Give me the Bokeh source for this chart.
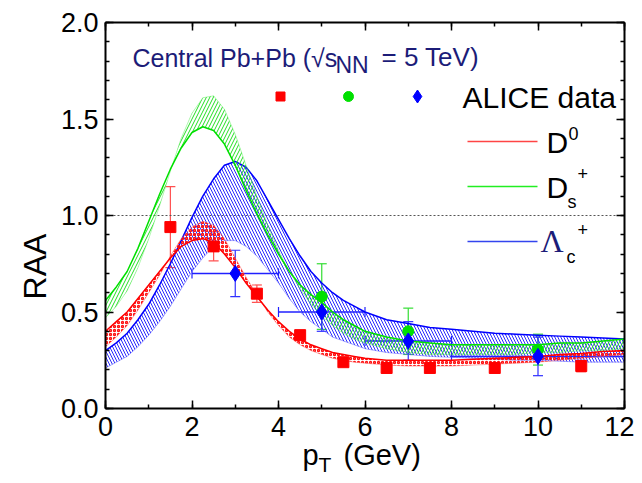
import math
from bokeh.plotting import figure
from bokeh.models import (Range1d, LinearAxis, FixedTicker, Label, Whisker,
                          ColumnDataSource, CustomJSTickFormatter, PrintfTickFormatter, TeeHead)
from bokeh.embed import file_html
from bokeh.resources import INLINE

# ---------------- data ----------------
pt_grid = [0, 0.25, 0.5, 0.75, 1.0, 1.25, 1.5, 1.75, 2.0, 2.25, 2.5, 2.75, 3.0, 3.25, 3.5, 3.75,
           4.0, 4.25, 4.5, 4.75, 5.0, 5.25, 5.5, 5.75, 6.0, 6.5, 7.0, 7.5, 8.0, 8.5, 9.0, 9.5,
           10.0, 10.5, 11.0, 11.5, 12.0]

# D0 model band (solid edge / hatched edge)
d0_solid = [0.40, 0.45, 0.50, 0.57, 0.64, 0.71, 0.78, 0.84, 0.87, 0.88, 0.86, 0.80, 0.73, 0.65, 0.58, 0.51,
            0.45, 0.40, 0.36, 0.33, 0.31, 0.29, 0.28, 0.27, 0.26, 0.25, 0.25, 0.25, 0.25, 0.255, 0.26, 0.265,
            0.27, 0.28, 0.285, 0.295, 0.30]
d0_edge = [0.32, 0.37, 0.43, 0.51, 0.60, 0.69, 0.79, 0.88, 0.94, 0.97, 0.95, 0.88, 0.78, 0.68, 0.59, 0.50,
           0.43, 0.37, 0.33, 0.30, 0.28, 0.26, 0.25, 0.24, 0.235, 0.225, 0.22, 0.22, 0.22, 0.225, 0.23, 0.235,
           0.24, 0.25, 0.26, 0.27, 0.28]

# Ds+ model band
ds_solid = [0.56, 0.63, 0.71, 0.83, 0.97, 1.11, 1.24, 1.35, 1.43, 1.46, 1.44, 1.37, 1.26, 1.13, 1.01, 0.90,
            0.80, 0.71, 0.64, 0.59, 0.55, 0.50, 0.46, 0.43, 0.40, 0.37, 0.35, 0.34, 0.33, 0.33, 0.33, 0.33,
            0.33, 0.34, 0.34, 0.35, 0.36]
ds_edge = [0.47, 0.53, 0.61, 0.73, 0.88, 1.05, 1.23, 1.40, 1.53, 1.61, 1.62, 1.55, 1.42, 1.26, 1.10, 0.95,
           0.82, 0.71, 0.62, 0.54, 0.48, 0.43, 0.39, 0.36, 0.34, 0.31, 0.29, 0.28, 0.28, 0.28, 0.28, 0.28,
           0.29, 0.29, 0.30, 0.30, 0.31]

# Lambda_c+ model band
lc_solid = [0.30, 0.34, 0.39, 0.46, 0.54, 0.64, 0.75, 0.87, 0.99, 1.10, 1.19, 1.26, 1.28, 1.25, 1.18, 1.08,
            0.98, 0.88, 0.79, 0.71, 0.65, 0.60, 0.56, 0.53, 0.50, 0.46, 0.44, 0.42, 0.41, 0.40, 0.39, 0.385,
            0.38, 0.375, 0.37, 0.365, 0.36]
lc_edge = [0.21, 0.24, 0.27, 0.32, 0.38, 0.45, 0.53, 0.62, 0.71, 0.78, 0.84, 0.87, 0.87, 0.84, 0.79, 0.72,
           0.65, 0.57, 0.50, 0.45, 0.41, 0.37, 0.35, 0.33, 0.31, 0.29, 0.28, 0.27, 0.265, 0.26, 0.255, 0.25,
           0.25, 0.245, 0.24, 0.24, 0.24]

# ALICE data
d0_pt = [1.5, 2.5, 3.5, 4.5, 5.5, 6.5, 7.5, 9.0, 11.0]
d0_raa = [0.94, 0.84, 0.595, 0.38, 0.24, 0.21, 0.21, 0.21, 0.22]
d0_err = [0.21, 0.075, 0.045, 0.025, 0.02, 0.02, 0.02, 0.02, 0.03]

ds_pt = [5.0, 7.0, 10.0]
ds_raa = [0.58, 0.40, 0.305]
ds_err = [0.17, 0.12, 0.08]

lc_pt = [3.0, 5.0, 7.0, 10.0]
lc_raa = [0.70, 0.50, 0.35, 0.27]
lc_yerr = [0.12, 0.10, 0.10, 0.10]
lc_xerr = [1.0, 1.0, 1.0, 2.0]

x_ticks = [0, 2, 4, 6, 8, 10, 12]
x_minor = list(range(0, 13))
y_ticks = [0.0, 0.5, 1.0, 1.5, 2.0]
y_minor = [round(0.1 * i, 1) for i in range(21)]
unity = 1.0

RED, GREEN, BLUE, NAVY = "#ff0000", "#00e000", "#0000ff", "#1c1c78"
FONT = "Liberation Sans"

# ---------------- geometry (pixel frame of the axes box) ----------------
W, H = 634, 475
FL, FR, FT, FB = 105, 624, 22, 408
sx = (FR - FL) / 12.0
sy = (FB - FT) / 2.0

p = figure(width=W, height=H, output_backend="svg", toolbar_location=None,
           x_range=Range1d(-FL / sx, (W - FL) / sx),
           y_range=Range1d((FB - H) / sy, FB / sy),
           min_border_left=0, min_border_right=0, min_border_top=0, min_border_bottom=0)
p.xgrid.visible = False
p.ygrid.visible = False
p.outline_line_color = None
p.background_fill_color = "white"
p.border_fill_color = "white"

xt = FixedTicker(ticks=x_ticks, minor_ticks=x_minor)
yt = FixedTicker(ticks=y_ticks, minor_ticks=y_minor)


def style_axis(ax):
    ax.axis_line_width = 2
    ax.axis_line_color = "black"
    ax.major_tick_in = 8
    ax.major_tick_out = 0
    ax.minor_tick_in = 4
    ax.minor_tick_out = 0
    ax.major_tick_line_width = 1.5
    ax.minor_tick_line_width = 1.5
    ax.major_label_text_font = FONT
    ax.major_label_text_font_size = "27px"
    ax.major_label_text_color = "black"


xa = p.xaxis[0]
xa.ticker = xt
xa.formatter = PrintfTickFormatter(format="%d")
style_axis(xa)
xa.major_label_standoff = 8
xa.fixed_location = 0
xa.bounds = (x_ticks[0], x_ticks[-1])

ya = p.yaxis[0]
ya.ticker = yt
ya.formatter = PrintfTickFormatter(format="%.1f")
style_axis(ya)
ya.major_label_standoff = 7
ya.fixed_location = 0
ya.bounds = (y_ticks[0], y_ticks[-1])

empty = CustomJSTickFormatter(code="return '';")
top = LinearAxis(ticker=xt, formatter=empty, major_label_standoff=0,
                 fixed_location=y_ticks[-1], bounds=(x_ticks[0], x_ticks[-1]))
style_axis(top)
p.add_layout(top, "above")
right = LinearAxis(ticker=yt, formatter=empty, major_label_standoff=0,
                   fixed_location=x_ticks[-1], bounds=(y_ticks[0], y_ticks[-1]))
style_axis(right)
p.add_layout(right, "right")

# dotted reference line at RAA = 1 inside the axes box
p.line([x_ticks[0], x_ticks[-1]], [unity, unity], line_color="#555555", line_dash="2 2", line_width=1)

# ---------------- model bands ----------------
p.varea(x=pt_grid, y1=lc_solid, y2=lc_edge, fill_alpha=0, hatch_pattern="left_diagonal_line",
        hatch_color="#2a2aff", hatch_scale=6, hatch_weight=1)
p.line(pt_grid, lc_edge, line_color="#5555ff", line_alpha=0.5, line_width=1)
p.line(pt_grid, lc_solid, line_color=BLUE, line_width=1.5)

p.varea(x=pt_grid, y1=ds_solid, y2=ds_edge, fill_alpha=0, hatch_pattern="right_diagonal_line",
        hatch_color="#22dd22", hatch_scale=7, hatch_weight=1)
p.line(pt_grid, ds_edge, line_color="#55ee55", line_alpha=0.45, line_width=1)
p.line(pt_grid, ds_solid, line_color=GREEN, line_width=1.5)

p.varea(x=pt_grid, y1=d0_solid, y2=d0_edge, fill_alpha=0, hatch_pattern="ring",
        hatch_color="#ff1010", hatch_scale=4, hatch_weight=1.3)
p.line(pt_grid, d0_edge, line_color="#ff5555", line_alpha=0.5, line_width=1)
p.line(pt_grid, d0_solid, line_color=RED, line_width=1.5)

# ---------------- data points ----------------
def add_yerr(xs, ys, errs, color):
    src = ColumnDataSource(dict(x=xs, lo=[y - e for y, e in zip(ys, errs)],
                                hi=[y + e for y, e in zip(ys, errs)]))
    w = Whisker(source=src, base="x", lower="lo", upper="hi", line_color=color, line_width=1.2,
                upper_head=TeeHead(size=10, line_color=color, line_width=1.2),
                lower_head=TeeHead(size=10, line_color=color, line_width=1.2))
    p.add_layout(w)


def add_xerr(xs, ys, errs, color):
    src = ColumnDataSource(dict(y=ys, lo=[x - e for x, e in zip(xs, errs)],
                                hi=[x + e for x, e in zip(xs, errs)]))
    w = Whisker(source=src, base="y", lower="lo", upper="hi", dimension="width",
                line_color=color, line_width=1.5,
                upper_head=TeeHead(size=10, line_color=color, line_width=1.2),
                lower_head=TeeHead(size=10, line_color=color, line_width=1.2))
    p.add_layout(w)


add_yerr(d0_pt, d0_raa, d0_err, "#ff5050")
add_yerr(ds_pt, ds_raa, ds_err, "#33dd33")
add_yerr(lc_pt, lc_raa, lc_yerr, "#3030ff")
add_xerr(lc_pt, lc_raa, lc_xerr, "#2020ff")

p.scatter(d0_pt, d0_raa, marker="square", size=11, fill_color=RED, line_color=RED)
p.scatter(ds_pt, ds_raa, marker="circle", size=11, fill_color=GREEN, line_color=GREEN)
p.scatter(lc_pt, lc_raa, marker="diamond", size=16, fill_color=BLUE, line_color=BLUE)

# ---------------- texts / legend ----------------
def X(px):
    return (px - FL) / sx


def Y(py):
    return (FB - py) / sy


def lab(txt, px, py, size, color="black", font=FONT):
    fs = float(size.replace("px", ""))
    p.add_layout(Label(x=X(px), y=Y(py - 0.35 * fs), text=txt, text_font=font, text_font_size=size,
                       text_color=color, text_baseline="alphabetic", text_align="left"))


lab("Central Pb+Pb (\u221as", 132, 66, "25px", NAVY)
lab("NN", 335, 73, "23px", NAVY)
lab("= 5 TeV)", 381, 66, "26px", NAVY)

p.scatter([X(280)], [Y(96)], marker="square", size=9, fill_color=RED, line_color=RED)
p.scatter([X(348)], [Y(96)], marker="circle", size=10, fill_color=GREEN, line_color=GREEN)
p.scatter([X(417)], [Y(96)], marker="diamond", size=13, fill_color=BLUE, line_color=BLUE)
lab("ALICE data", 462, 107, "30px")

for py, col in [(141, "#ff4444"), (186, "#22ee22"), (241, "#3344ee")]:
    p.line([X(467), X(537)], [Y(py), Y(py)], line_color=col, line_width=1.5)

lab("D", 546, 152, "30px")
lab("0", 568, 139, "18px")
lab("D", 546, 197, "30px")
lab("s", 567, 208, "18px")
lab("+", 577, 179, "18px")
lab("\u039b", 540, 252, "32px", NAVY, "Liberation Serif")
lab("c", 566, 263, "18px")
lab("+", 577, 235, "18px")

lab("p", 302, 465, "29px")
lab("T", 318, 471, "21px")
lab("(GeV)", 343, 465, "29px")

p.add_layout(Label(x=X(34), y=Y(266), text="RAA", text_font=FONT, text_font_size="32px",
                   angle=math.pi / 2, text_align="center", text_baseline="middle", text_color="black"))

open("out.html", "w").write(file_html(p, INLINE))
